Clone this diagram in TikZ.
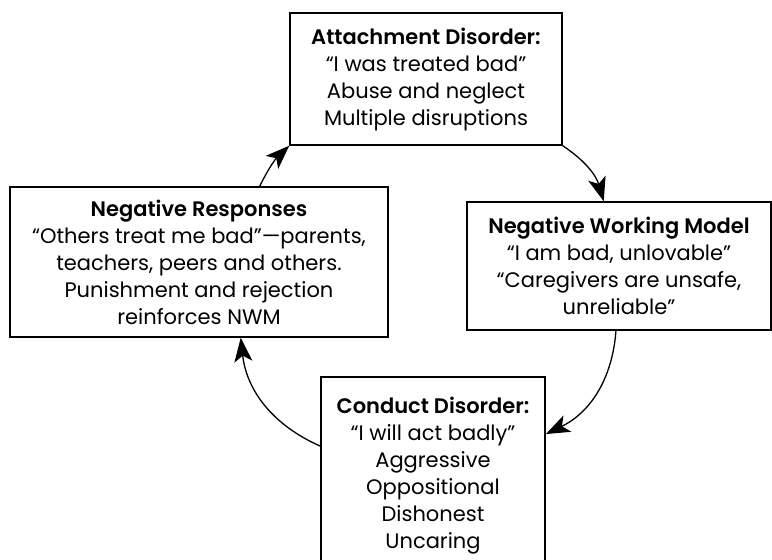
\documentclass[tikz,border=0pt]{standalone}
\usepackage{fontspec}
\setmainfont{Poppins}[BoldFont={Poppins SemiBold}]
\usetikzlibrary{arrows.meta,calc}
\begin{document}
\begin{tikzpicture}[x=1pt,y=-1pt,
  box/.style={draw, line width=1.5pt, inner sep=0pt, align=center,
    font=\fontsize{21}{27}\selectfont},
  arr/.style={-{Stealth[length=24pt,width=18pt,inset=6pt]}, line width=1.3pt}]
\useasboundingbox (0,0) rectangle (772,560);
\begin{scope}
\clip (0,0) rectangle (772,560);
\node[box, minimum width=272pt, minimum height=132pt] (ad) at (426,79)
  {\textbf{Attachment Disorder:}\\“I was treated bad”\\Abuse and neglect\\Multiple disruptions};
\node[box, minimum width=378pt, minimum height=150pt] (nr) at (199,262)
  {\textbf{Negative Responses}\\“Others treat me bad”—parents,\\teachers, peers and others.\\Punishment and rejection\\reinforces NWM};
\node[box, minimum width=304pt, minimum height=128pt] (nw) at (619,266)
  {\textbf{Negative Working Model}\\“I am bad, unlovable”\\“Caregivers are unsafe,\\unreliable”};
\node[box, minimum width=224pt, minimum height=198pt] (cd) at (433,476)
  {\textbf{Conduct Disorder:}\\“I will act badly”\\Aggressive\\Oppositional\\Dishonest\\Uncaring};
\draw[arr] ($(nr.north west)!0.66!(nr.north east)$) to[bend left=10] (ad.south west);
\draw[arr] (ad.south east) to[bend left=20] ($(nw.north west)!0.45!(nw.north east)$);
\draw[arr] ($(nw.south west)!0.49!(nw.south east)$) to[bend left=30] ($(cd.north east)!0.29!(cd.south east)$);
\draw[arr] ($(cd.north west)!0.35!(cd.south west)$) to[bend left=30] ($(nr.south west)!0.61!(nr.south east)$);
\end{scope}
\end{tikzpicture}
\end{document}
